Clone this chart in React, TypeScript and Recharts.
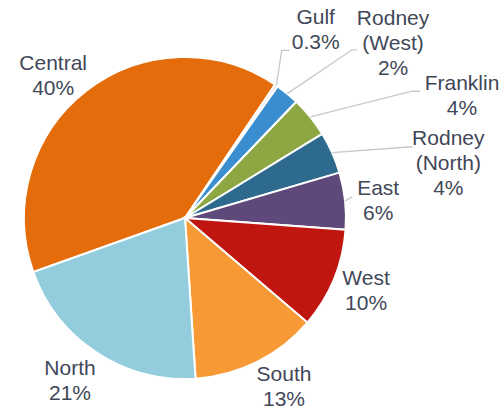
import React from 'react';
import { PieChart, Pie, Cell } from 'recharts';

const regions = ['Central', 'Gulf', 'Rodney\n(West)', 'Franklin', 'Rodney\n(North)', 'East', 'West', 'South', 'North'];
const shares = [39.9, 0.3, 2.4, 4.1, 4.2, 5.7, 10.1, 12.7, 20.6];
const colors = ['#E46C0A', '#F2DCDB', '#3A8ED0', '#8DA843', '#2D6A8E', '#5F497A', '#C0160F', '#F79A36', '#93CDDD'];

// where each label sits: [angle, distance from centre]
const labelSpots: [number, number][] = [
  [132.8, 194], [55.2, 229], [40.1, 272], [23.9, 303], [11.8, 269],
  [5.2, 194], [-21.8, 195], [-59.5, 195], [-125.3, 199],
];
// leader lines, relative to label centre: [bendX, bendY, endX, endY]
const leaders: (number[] | null)[] = [
  null, [-34, 20.5, -26, 20.5], [-41, 7, -36, 7], [-50, -4, -42, -4], [-40, -16, -36, -16],
  [-26, -3.5, -26, -3.5], null, null, null,
];

const data = regions.map((name, i) => ({ name, value: shares[i] }));
const total = shares.reduce((a, b) => a + b, 0);
const RAD = Math.PI / 180;

const renderLabel = (props: any) => {
  const { cx, cy, outerRadius, midAngle, index, value } = props;
  const [ang, dist] = labelSpots[index];
  const lx = cx + dist * Math.cos(ang * RAD);
  const ly = cy - dist * Math.sin(ang * RAD);
  const pct = (value / total) * 100;
  const pctText = pct < 1 ? pct.toFixed(1) + '%' : Math.round(pct) + '%';
  const lines = [...regions[index].split('\n'), pctText];
  const lh = 25;
  const top = ly - ((lines.length - 1) * lh) / 2;
  const ld = leaders[index];
  let leader = null;
  if (ld) {
    const sx = cx + outerRadius * Math.cos(midAngle * RAD);
    const sy = cy - outerRadius * Math.sin(midAngle * RAD);
    leader = (
      <polyline
        points={`${sx},${sy} ${lx + ld[0]},${ly + ld[1]} ${lx + ld[2]},${ly + ld[3]}`}
        fill="none"
        stroke="#C8C8C8"
        strokeWidth={1.3}
      />
    );
  }
  return (
    <g key={`lbl-${index}`}>
      {leader}
      <text x={lx} y={top} textAnchor="middle" fill="#3F4758" fontSize={21} fontFamily="Liberation Sans, Arial, sans-serif">
        {lines.map((t, i) => (
          <tspan key={i} x={lx} y={top + i * lh + 7}>{t}</tspan>
        ))}
      </text>
    </g>
  );
};

const App = () => {
  return (
    <div style={{ position: 'absolute', left: 0, top: 0, background: '#fff' }}>
      <PieChart width={501} height={409} margin={{ top: 0, right: 0, bottom: 0, left: 0 }}>
        <Pie
          data={data}
          dataKey="value"
          nameKey="name"
          cx={185}
          cy={218}
          outerRadius={161}
          startAngle={199.6}
          endAngle={-160.4}
          stroke="#fff"
          strokeWidth={2}
          label={renderLabel}
          labelLine={false}
          isAnimationActive={false}
        >
          {data.map((d, i) => (
            <Cell key={d.name} fill={colors[i]} />
          ))}
        </Pie>
      </PieChart>
    </div>
  );
};

export default App;
